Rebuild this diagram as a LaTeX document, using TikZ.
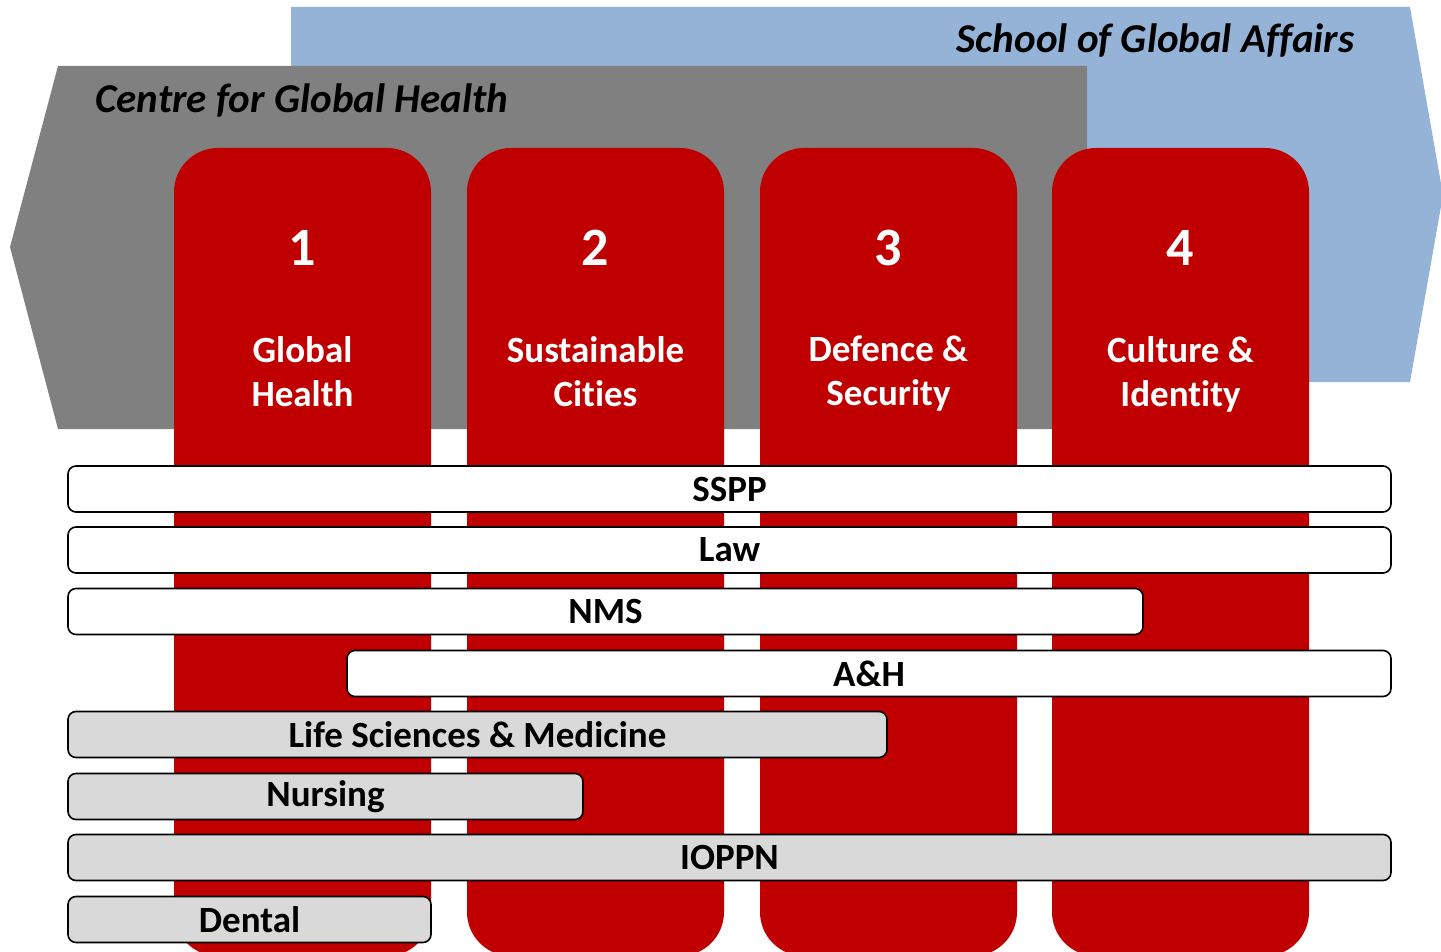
\documentclass[tikz,border=0pt]{standalone}
\usepackage{fontspec}
\setmainfont{Carlito}[Ligatures=NoCommon]
\usepackage{tikz}

\definecolor{kingsred}{HTML}{C00000}
\definecolor{sgablue}{HTML}{95B3D7}
\definecolor{cghgrey}{HTML}{808080}
\definecolor{facgrey}{HTML}{D9D9D9}

\begin{document}
\begin{tikzpicture}[x=1pt,y=-1pt,
    theme/.style={rectangle,fill=kingsred,rounded corners=44pt,minimum width=257pt,minimum height=808pt,inner sep=0pt},
    num/.style={text=white,font=\fontsize{54}{60}\selectfont\bfseries},
    theme name/.style={text=white,align=center,inner sep=0pt,anchor=north,font=\fontsize{37}{44}\selectfont\bfseries},
    title/.style={font=\fontsize{41}{50}\selectfont\bfseries\itshape},
    faculty/.style={rectangle,draw=black,line width=1.6pt,rounded corners=8pt,minimum height=46pt,inner sep=0pt,font=\fontsize{37}{40}\selectfont\bfseries},
    arts/.style={faculty,fill=white},
    health/.style={faculty,fill=facgrey}]

  \useasboundingbox (0,0) rectangle (1441,952);

  % banners
  \fill[sgablue] (291,7) -- (1410,7) -- (1443,195) -- (1410,382) -- (291,382) -- cycle;
  \fill[cghgrey] (58,66) -- (1087,66) -- (1087,429) -- (58,429) -- (10,247) -- cycle;
  \node[title,anchor=east] (sga) at (1358,41) {School of Global Affairs};
  \node[title,anchor=west] (cgh) at (92,100) {Centre for Global Health};

  % themes
  \node[theme] (col1) at (302.5,552) {};
  \node[theme] (col2) at (595.5,552) {};
  \node[theme] (col3) at (888.5,552) {};
  \node[theme] (col4) at (1180.5,552) {};

  \node[num] (n1) at (302.5,248) {1};
  \node[num] (n2) at (595.5,248) {2};
  \node[num] (n3) at (888.5,248) {3};
  \node[num] (n4) at (1180.5,248) {4};

  \node[theme name] (t1) at (302.5,336) {Global\\Health};
  \node[theme name] (t2) at (595.5,336) {Sustainable\\Cities};
  \node[theme name] (t3) at (888.5,336) {Defence \&\\Security};
  \node[theme name] (t4) at (1180.5,336) {Culture \&\\Identity};

  % faculties
  \node[arts,minimum width=1323pt] (sspp) at (729.5,489) {SSPP};
  \node[arts,minimum width=1323pt] (law) at (729.5,550) {Law};
  \node[arts,minimum width=1075pt] (nms) at (605.5,611.5) {NMS};
  \node[arts,minimum width=1044pt] (ah) at (869,673.5) {A\&H};
  \node[health,minimum width=819pt] (lsm) at (477.5,734.5) {Life Sciences \& Medicine};
  \node[health,minimum width=515pt] (nurs) at (325.5,796.5) {Nursing};
  \node[health,minimum width=1323pt] (ioppn) at (729.5,857.5) {IOPPN};
  \node[health,minimum width=363pt] (dent) at (249.5,919.5) {Dental};
\end{tikzpicture}
\end{document}
